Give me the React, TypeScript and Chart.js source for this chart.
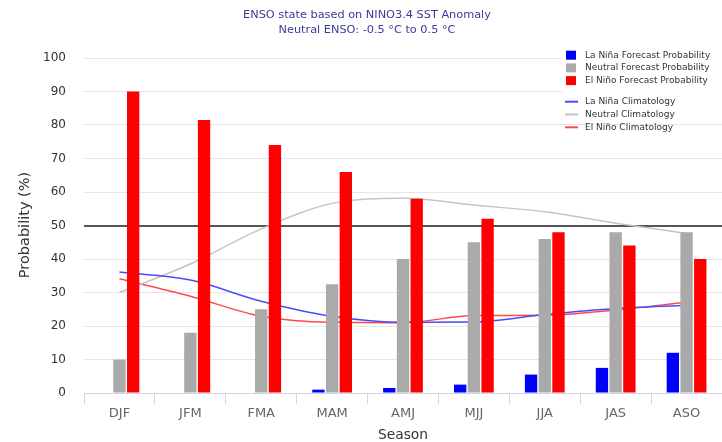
import React, { useEffect, useRef } from "react";
import { Chart, registerables } from "chart.js";

Chart.register(...registerables);

const categories = ["DJF", "JFM", "FMA", "MAM", "AMJ", "MJJ", "JJA", "JAS", "ASO"];
const laNinaProb = [0, 0, 0, 1, 1.5, 2.5, 5.5, 7.5, 12];
const neutralProb = [10, 18, 25, 32.5, 40, 45, 46, 48, 48];
const elNinoProb = [90, 81.5, 74, 66, 58, 52, 48, 44, 40];
const laNinaClim = [36.1, 33.7, 27.4, 22.9, 21.1, 21.2, 23.4, 25.2, 26.2];
const neutralClim = [30, 38.5, 49, 56.6, 58.1, 56.1, 54.1, 50.7, 47.6];
const elNinoClim = [34.1, 28.9, 22.9, 21.1, 21, 23.1, 23.2, 24.8, 27.1];
const yTicks = [0, 10, 20, 30, 40, 50, 60, 70, 80, 90, 100];

const titleText = "ENSO state based on NINO3.4 SST Anomaly";
const subtitleText = "Neutral ENSO: -0.5 °C to 0.5 °C";
const xTitle = "Season";
const yTitle = "Probability (%)";

const barLegend = [
  { label: "La Niña Forecast Probability", color: "#0000ff" },
  { label: "Neutral Forecast Probability", color: "#aaaaaa" },
  { label: "El Niño Forecast Probability", color: "#ff0000" },
];
const lineLegend = [
  { label: "La Niña Climatology", color: "#4a4aff" },
  { label: "Neutral Climatology", color: "#c4c4c4" },
  { label: "El Niño Climatology", color: "#ff4a4a" },
];

const FONT = "'DejaVu Sans', sans-serif";

const overlay = {
  id: "overlay",
  afterDraw(chart: any) {
    const ctx = chart.ctx;
    const area = chart.chartArea;
    ctx.save();
    // titles
    ctx.fillStyle = "#3b3b99";
    ctx.font = `11.3px ${FONT}`;
    ctx.textAlign = "center";
    ctx.textBaseline = "middle";
    ctx.fillText(titleText, 367, 15);
    ctx.fillText(subtitleText, 367, 30);
    // axis titles
    ctx.fillStyle = "#333333";
    ctx.font = `13.8px ${FONT}`;
    ctx.fillText(xTitle, (area.left + area.right) / 2, 435);
    ctx.save();
    ctx.translate(25, 225);
    ctx.rotate(-Math.PI / 2);
    ctx.font = `14.5px ${FONT}`;
    ctx.fillText(yTitle, 0, 0);
    ctx.restore();
    // legend
    ctx.fillStyle = "#ffffff";
    ctx.fillRect(562, 46, 160, 74);
    ctx.font = `9px ${FONT}`;
    ctx.textAlign = "left";
    barLegend.forEach((it, i) => {
      const cy = 55.2 + i * 12.7;
      ctx.fillStyle = it.color;
      ctx.fillRect(566, cy - 4.5, 10, 9);
      ctx.fillStyle = "#333333";
      ctx.fillText(it.label, 585, cy);
    });
    lineLegend.forEach((it, i) => {
      const cy = 101.7 + i * 12.8;
      ctx.strokeStyle = it.color;
      ctx.lineWidth = 2;
      ctx.beginPath();
      ctx.moveTo(565, cy);
      ctx.lineTo(578, cy);
      ctx.stroke();
      ctx.fillStyle = "#333333";
      ctx.fillText(it.label, 585, cy);
    });
    ctx.restore();
  },
};

export default function App() {
  const ref = useRef<HTMLCanvasElement>(null);
  useEffect(() => {
    document.body.style.margin = "0";
    const canvas = ref.current!;
    const barCommon = { categoryPercentage: 0.58, barPercentage: 0.9, borderWidth: 0 };
    const lineCommon = {
      type: "line" as const,
      borderWidth: 1.5,
      pointRadius: 0,
      fill: false,
      cubicInterpolationMode: "monotone" as const,
    };
    const chart = new Chart(canvas, {
      type: "bar",
      data: {
        labels: categories,
        datasets: [
          { label: barLegend[0].label, data: laNinaProb, backgroundColor: "#0000ff", ...barCommon },
          { label: barLegend[1].label, data: neutralProb, backgroundColor: "#aaaaaa", ...barCommon },
          { label: barLegend[2].label, data: elNinoProb, backgroundColor: "#ff0000", ...barCommon },
          { label: lineLegend[0].label, data: laNinaClim, borderColor: "#4a4aff", ...lineCommon },
          { label: lineLegend[1].label, data: neutralClim, borderColor: "#c4c4c4", ...lineCommon },
          { label: lineLegend[2].label, data: elNinoClim, borderColor: "#ff4a4a", ...lineCommon },
        ] as any,
      },
      options: {
        responsive: false,
        animation: false,
        devicePixelRatio: 1,
        layout: { padding: { top: 58, left: 0, right: 0, bottom: 0 } },
        plugins: { legend: { display: false }, title: { display: false }, tooltip: { enabled: false } },
        scales: {
          x: {
            grid: {
              offset: true,
              drawOnChartArea: false,
              drawTicks: true,
              tickLength: 11,
              color: "#ccd6eb",
            },
            border: { color: "#ccd6eb", width: 1 },
            ticks: { color: "#666666", font: { family: FONT, size: 13 }, padding: 2 },
            afterFit: (s: any) => {
              s.height = 49;
            },
          },
          y: {
            min: 0,
            max: 100,
            afterBuildTicks: (s: any) => {
              s.ticks = yTicks.map((v) => ({ value: v }));
            },
            grid: {
              drawTicks: false,
              color: (c: any) => (c.tick && c.tick.value === 50 ? "#555555" : "#e6e6e6"),
              lineWidth: (c: any) => (c.tick && c.tick.value === 50 ? 2 : 1),
            },
            border: { display: false },
            ticks: { color: "#333333", font: { family: FONT, size: 12 }, padding: 18 },
            afterFit: (s: any) => {
              s.width = 84;
            },
          },
        },
      },
      plugins: [overlay],
    });
    return () => chart.destroy();
  }, []);
  return (
    <div style={{ width: 722, height: 442 }}>
      <canvas ref={ref} width={722} height={442} style={{ display: "block" }} />
    </div>
  );
}
